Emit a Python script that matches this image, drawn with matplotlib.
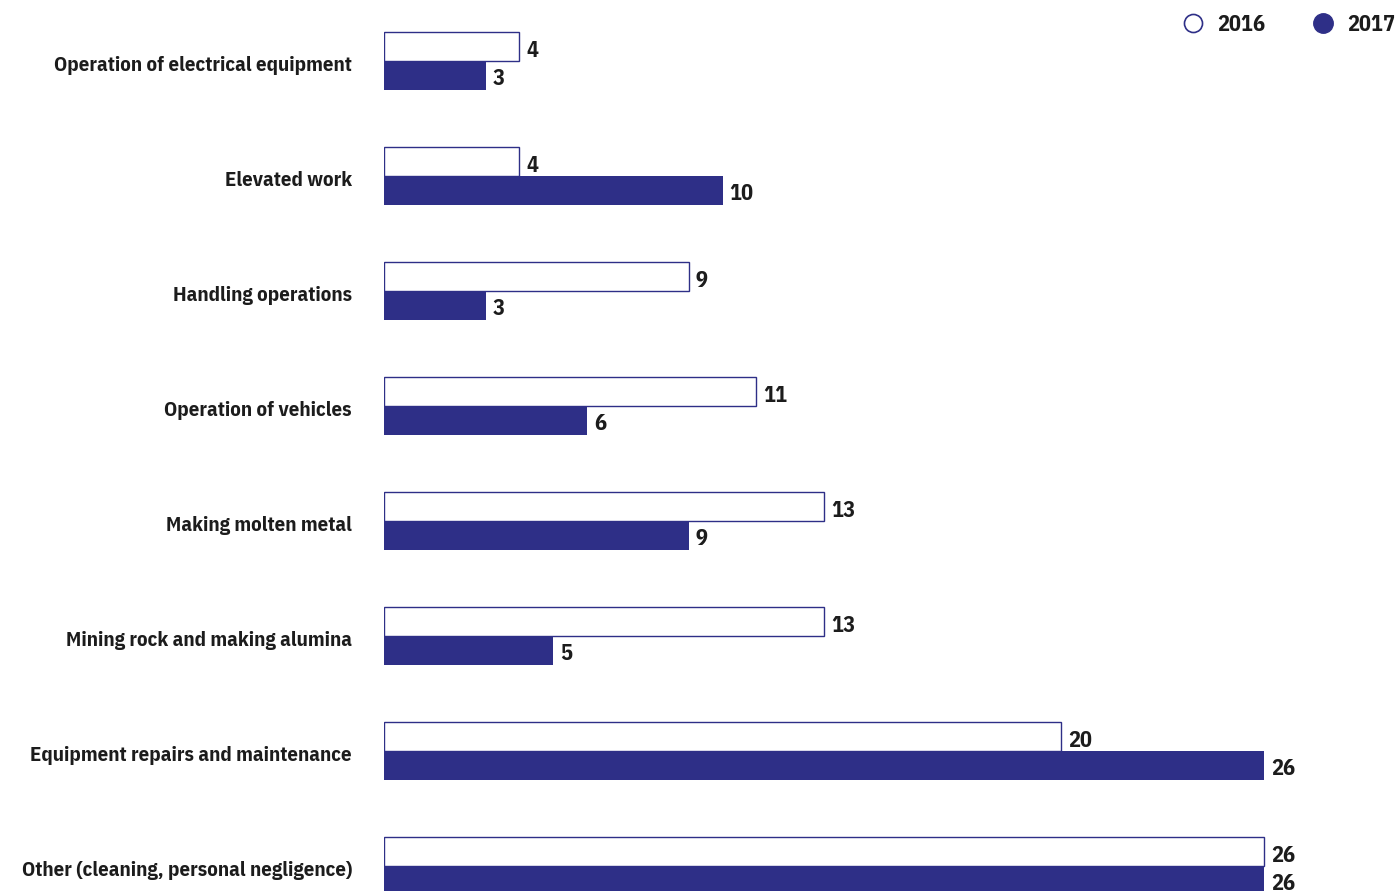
import matplotlib.pyplot as plt
from matplotlib.lines import Line2D

categories = ['Operation of electrical equipment', 'Elevated work', 'Handling operations',
              'Operation of vehicles', 'Making molten metal', 'Mining rock and making alumina',
              'Equipment repairs and maintenance', 'Other (cleaning, personal negligence)']
values_2016 = [4, 4, 9, 11, 13, 13, 20, 26]
values_2017 = [3, 10, 3, 6, 9, 5, 26, 26]
series_names = ['2016', '2017']

navy = '#2E2F87'
txt = '#1c1c1c'
fam = ['IBM Plex Sans Condensed', 'DejaVu Sans']
font = dict(family=fam, fontweight='bold', color=txt)

fig = plt.figure(figsize=(13.98, 8.91), dpi=100)
ax = fig.add_axes([384 / 1398, 0, 1 - 384 / 1398, 1])

bh = 0.25
ys = list(range(len(categories)))
ax.barh([y - bh / 2 for y in ys], values_2016, height=bh, color='white',
        edgecolor=navy, linewidth=1)
ax.barh([y + bh / 2 for y in ys], values_2017, height=bh, color=navy,
        edgecolor=navy, linewidth=0)

for y, a, b in zip(ys, values_2016, values_2017):
    ax.text(a + 0.2, y - bh / 2 + 0.03, str(a), ha='left', va='center', fontsize=16, **font)
    ax.text(b + 0.2, y + bh / 2 + 0.025, str(b), ha='left', va='center', fontsize=16, **font)

ax.set_xlim(0, 1014 / 33.85)
ax.set_ylim((891 - 61) / 115, -61 / 115)
# labels sit a touch below the bar pair's centre line
ax.set_yticks([y + 0.02 for y in ys])
ax.set_yticklabels(categories)
for lab in ax.get_yticklabels():
    lab.set_fontsize(15)
    lab.set_fontfamily(fam)
    lab.set_fontweight('bold')
    lab.set_color(txt)
ax.tick_params(axis='y', length=0, pad=23)
ax.tick_params(axis='x', bottom=False, labelbottom=False)
for s in ax.spines.values():
    s.set_visible(False)

handles = [Line2D([], [], marker='o', linestyle='none', markersize=13,
                  markerfacecolor='white', markeredgecolor=navy, markeredgewidth=1.2),
           Line2D([], [], marker='o', linestyle='none', markersize=14,
                  markerfacecolor=navy, markeredgecolor=navy)]
leg = fig.legend(handles, series_names, loc='upper right', bbox_to_anchor=(1.0125, 1.007),
                 ncol=2, frameon=False, handletextpad=0.1, columnspacing=1.6,
                 prop=dict(family=fam, weight='bold', size=16))
for t in leg.get_texts():
    t.set_color(txt)

fig.savefig('out.png', dpi=100)
